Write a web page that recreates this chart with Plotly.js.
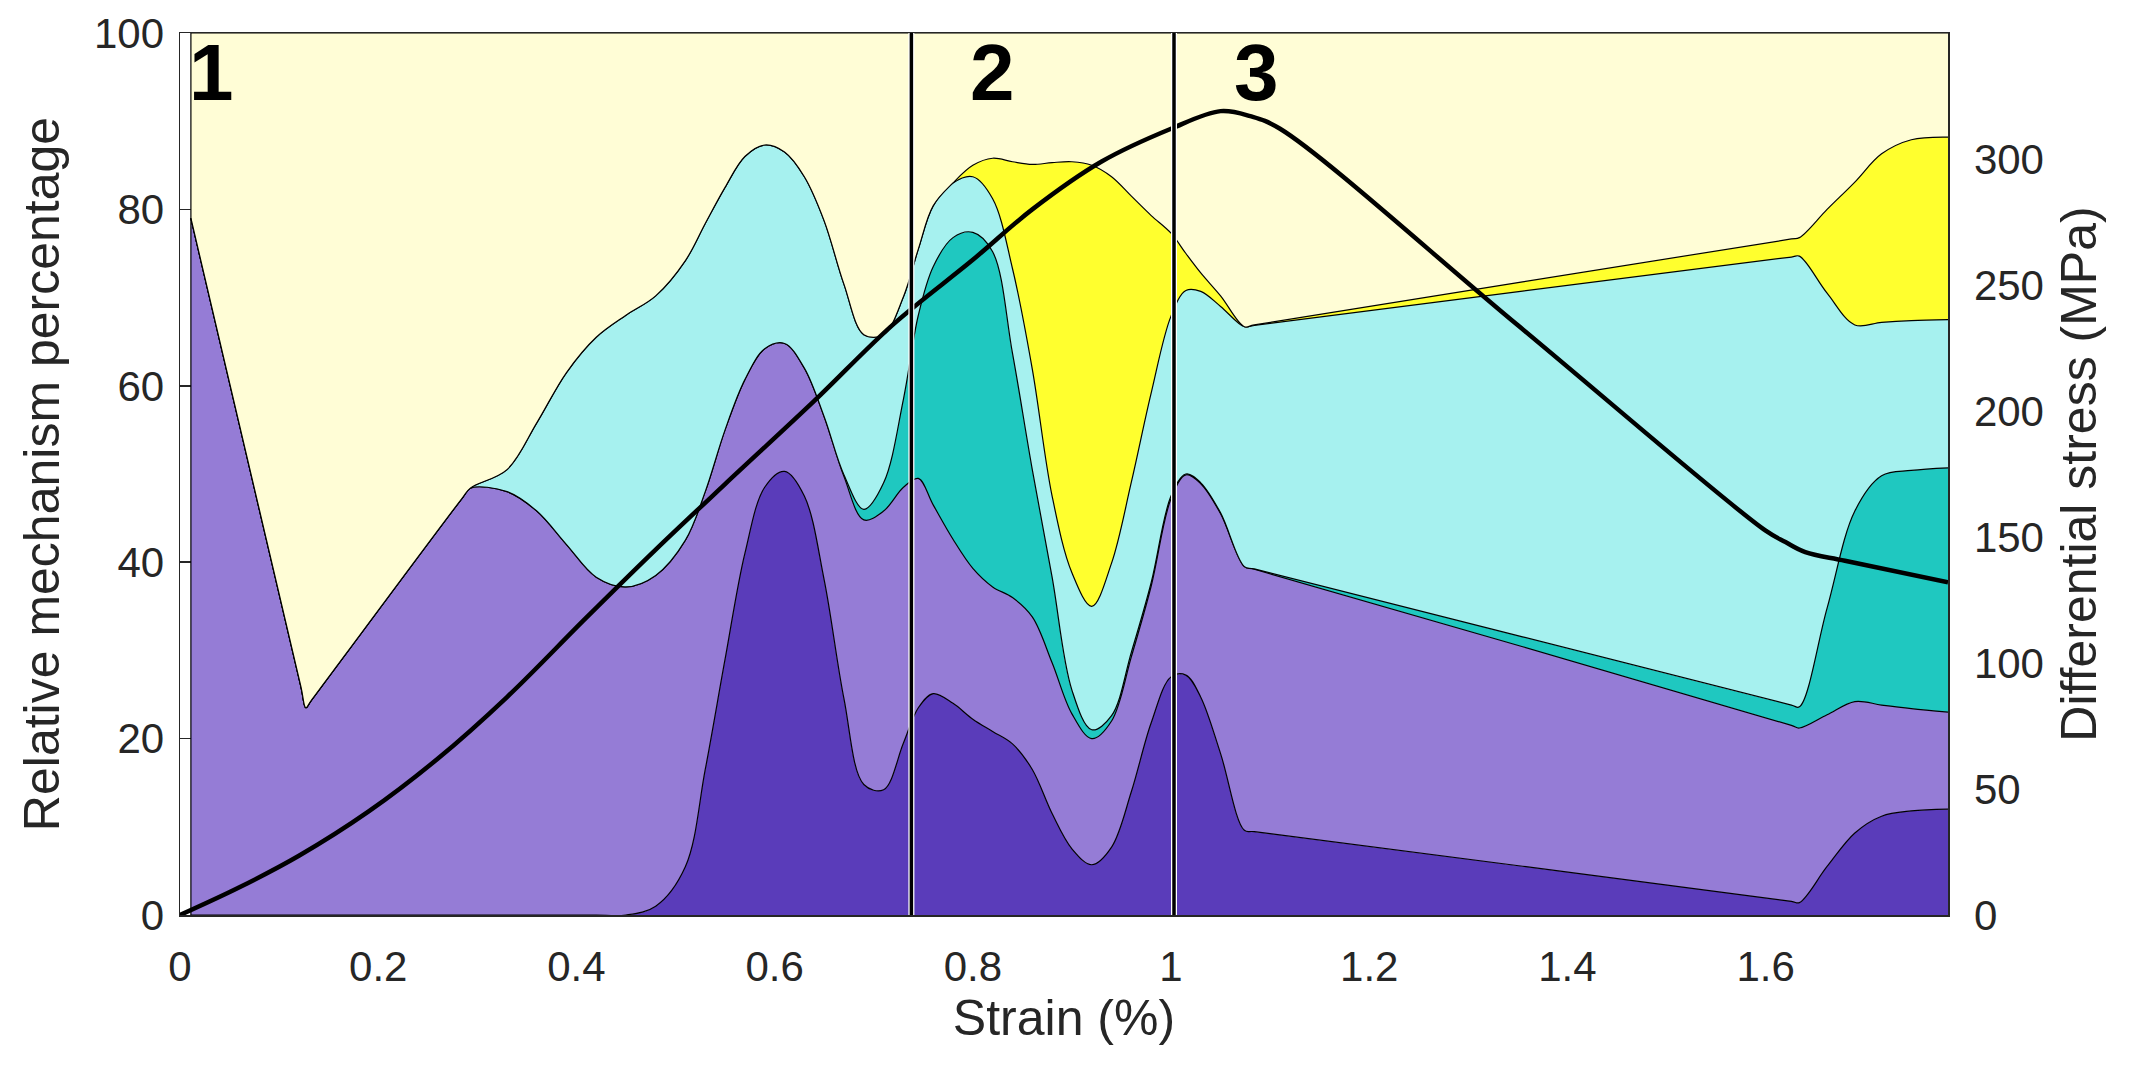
<!DOCTYPE html>
<html>
<head>
<meta charset="utf-8">
<script src="https://cdn.plot.ly/plotly-3.0.1.min.js"></script>
<style>
  html, body { margin: 0; padding: 0; background: #ffffff; }
  #chart { width: 2148px; height: 1069px; }
</style>
</head>
<body>
<div id="chart"></div>
<script>
// ---- Data ----
// Strain (%) sample points of the stacked mechanism areas
const strain = [0.011, 0.122, 0.127, 0.132, 0.285, 0.293, 0.33, 0.36, 0.39, 0.42, 0.45, 0.48, 0.51, 0.53, 0.55, 0.57, 0.59, 0.61, 0.63, 0.65, 0.67, 0.69, 0.71, 0.73, 0.745, 0.76, 0.78, 0.80, 0.82, 0.84, 0.86, 0.88, 0.90, 0.92, 0.94, 0.96, 0.98, 1.00, 1.015, 1.03, 1.05, 1.074, 1.084, 1.626, 1.634, 1.662, 1.69, 1.717, 1.747, 1.784];

// Cumulative upper boundary (%) of each mechanism layer, bottom to top
const topMech1 = [0, 0, 0, 0, 0, 0, 0, 0, 0, 0, 0, 1.0, 5.5, 16.5, 29.0, 41.0, 48.5, 50.3, 47.5, 38.0, 24.5, 14.8, 14.2, 19.5, 23.5, 25.1, 24.0, 22.2, 20.8, 19.4, 16.5, 11.5, 7.5, 5.7, 7.7, 14.0, 21.8, 27.0, 27.2, 24.7, 18.3, 9.6, 9.45, 1.55, 1.4, 5.5, 9.3, 11.2, 11.8, 12.0];
const topMech2 = [79, 25.9, 23.5, 24.25, 47.3, 48.4, 48.0, 45.8, 42.0, 38.3, 37.2, 38.5, 42.5, 48.0, 55.0, 60.7, 64.2, 64.8, 62.0, 56.5, 49.7, 44.8, 45.8, 48.5, 49.5, 46.5, 42.6, 39.3, 37.2, 36.0, 33.8, 28.6, 22.8, 20.0, 22.0, 29.3, 37.3, 47.2, 49.9, 48.9, 45.5, 39.5, 39.2, 21.5, 21.2, 22.7, 24.2, 23.8, 23.4, 23.0];
const topMech3 = [79, 25.9, 23.5, 24.25, 47.3, 48.4, 48.0, 45.8, 42.0, 38.3, 37.2, 38.5, 42.5, 48.0, 55.0, 60.7, 64.2, 64.8, 62.0, 56.5, 49.9, 46.0, 49.0, 58.5, 68.0, 73.5, 76.8, 77.4, 75.2, 63.7, 50.5, 38.3, 25.5, 21.0, 22.6, 29.8, 37.7, 47.5, 50.0, 49.0, 45.6, 39.5, 39.25, 23.8, 23.6, 34.8, 45.8, 49.8, 50.4, 50.7];
const topMech4 = [79, 25.9, 23.5, 24.25, 47.3, 48.4, 50.5, 55.8, 61.5, 65.5, 68.0, 70.2, 74.2, 78.4, 82.5, 86.0, 87.3, 86.5, 83.7, 78.7, 71.5, 65.8, 65.8, 70.1, 75.5, 80.4, 83.0, 83.7, 81.2, 73.3, 61.9, 47.5, 38.8, 35.0, 39.9, 49.1, 59.2, 67.9, 70.8, 70.7, 69.0, 66.7, 66.85, 74.6, 74.7, 70.5, 66.9, 67.2, 67.4, 67.5];
const topMech5 = [79, 25.9, 23.5, 24.25, 47.3, 48.4, 50.5, 55.8, 61.5, 65.5, 68.0, 70.2, 74.2, 78.4, 82.5, 86.0, 87.3, 86.5, 83.7, 78.7, 71.5, 65.8, 65.8, 70.1, 75.5, 80.4, 83.0, 85.0, 85.8, 85.4, 85.1, 85.3, 85.4, 85.0, 83.7, 81.5, 79.3, 77.3, 75.0, 72.8, 70.2, 66.7, 66.9, 76.65, 76.8, 80.0, 83.1, 86.3, 87.9, 88.2];
const stackTotal = 100;

// Differential stress curve (right axis)
const stressStrain = [0, 0.06, 0.12, 0.19, 0.26, 0.33, 0.41, 0.48, 0.55, 0.64, 0.72, 0.80, 0.86, 0.93, 1.00, 1.05, 1.08, 1.11, 1.35, 1.60, 1.62, 1.64, 1.68, 1.784];
const stressMPa    = [0, 11, 23.5, 41, 62, 86.5, 118, 145, 171, 204, 234.5, 260, 280, 299, 312, 319, 317, 312, 234, 152.5, 148, 144, 140.6, 132];

// Stage boundaries and labels
const stageBounds = [0.738, 1.003];
const stageLabels = ['1', '2', '3'];

// Ticks
const xTickVals = [0, 0.2, 0.4, 0.6, 0.8, 1, 1.2, 1.4, 1.6];
const xTickText = ['0', '0.2', '0.4', '0.6', '0.8', '1', '1.2', '1.4', '1.6'];
const yTickVals = [0, 20, 40, 60, 80, 100];
const y2TickVals = [0, 50, 100, 150, 200, 250, 300];

// ---- Styles ----
const fillColors = ['#5A3CBA', '#957CD6', '#1FC8C0', '#A6F1EF', '#FFFF2E', '#FFFDD6'];
const axisColor = '#262626';
const fontFamily = 'Liberation Sans, Arial, Helvetica, sans-serif';

const layerTops = [topMech1, topMech2, topMech3, topMech4, topMech5, strain.map(() => stackTotal)];

const traces = layerTops.map((t, i) => ({
  type: 'scatter',
  mode: 'lines',
  x: strain,
  y: t,
  line: { color: '#000000', width: 1.2, shape: 'spline', smoothing: 1 },
  fill: i === 0 ? 'tozeroy' : 'tonexty',
  fillcolor: fillColors[i],
  hoverinfo: 'skip',
  showlegend: false
}));

traces.push({
  type: 'scatter',
  mode: 'lines',
  x: stressStrain,
  y: stressMPa,
  yaxis: 'y2',
  line: { color: '#000000', width: 4.5, shape: 'spline', smoothing: 1 },
  hoverinfo: 'skip',
  showlegend: false
});

const shapes = [];
// left edge of the stacked areas
shapes.push({ type: 'line', xref: 'x', yref: 'y', x0: strain[0], x1: strain[0], y0: 0, y1: stackTotal,
  line: { color: '#000000', width: 1.2 }, layer: 'above' });
stageBounds.forEach(b => {
  shapes.push({ type: 'line', xref: 'x', yref: 'paper', x0: b, x1: b, y0: 0, y1: 1,
    line: { color: '#ffffff', width: 6 }, layer: 'above' });
  shapes.push({ type: 'line', xref: 'x', yref: 'paper', x0: b, x1: b, y0: 0, y1: 1,
    line: { color: '#000000', width: 3.5 }, layer: 'above' });
});

const labelX = [0.032, 0.820, 1.086];
const annotations = stageLabels.map((s, i) => ({
  x: labelX[i], y: 95.5, xref: 'x', yref: 'y', text: s, showarrow: false,
  xanchor: 'center', yanchor: 'middle',
  font: { family: fontFamily, size: 80, color: '#000000', weight: 700 }
}));

const layout = {
  width: 2148,
  height: 1069,
  margin: { l: 180, r: 200, t: 33, b: 154 },
  paper_bgcolor: '#ffffff',
  plot_bgcolor: '#ffffff',
  font: { family: fontFamily, color: axisColor, size: 42 },
  showlegend: false,
  hovermode: false,
  xaxis: {
    range: [0, 1.784],
    tickvals: xTickVals,
    ticktext: xTickText,
    ticks: '',
    showline: true,
    mirror: true,
    linecolor: axisColor,
    linewidth: 1.5,
    showgrid: false,
    zeroline: false,
    tickfont: { family: fontFamily, size: 42, color: axisColor },
    ticklabelstandoff: 14,
    title: { text: 'Strain (%)', font: { family: fontFamily, size: 50, color: axisColor }, standoff: 10 }
  },
  yaxis: {
    range: [0, 100],
    tickvals: yTickVals,
    ticks: 'inside',
    ticklen: 11,
    tickwidth: 1.5,
    tickcolor: axisColor,
    showline: true,
    linecolor: axisColor,
    linewidth: 1.5,
    showgrid: false,
    zeroline: false,
    layer: 'below traces',
    tickfont: { family: fontFamily, size: 42, color: axisColor },
    ticklabelstandoff: 6,
    title: { text: 'Relative mechanism percentage', font: { family: fontFamily, size: 50, color: axisColor }, standoff: 18 }
  },
  yaxis2: {
    overlaying: 'y',
    side: 'right',
    range: [0, 350],
    tickvals: y2TickVals,
    ticks: '',
    showline: true,
    linecolor: axisColor,
    linewidth: 1.5,
    showgrid: false,
    zeroline: false,
    tickfont: { family: fontFamily, size: 42, color: axisColor },
    ticklabelstandoff: 16,
    title: { text: 'Differential stress (MPa)', font: { family: fontFamily, size: 50, color: axisColor }, standoff: 18 }
  },
  shapes: shapes,
  annotations: annotations
};

Plotly.newPlot('chart', traces, layout, { staticPlot: true, displayModeBar: false });
</script>
</body>
</html>
